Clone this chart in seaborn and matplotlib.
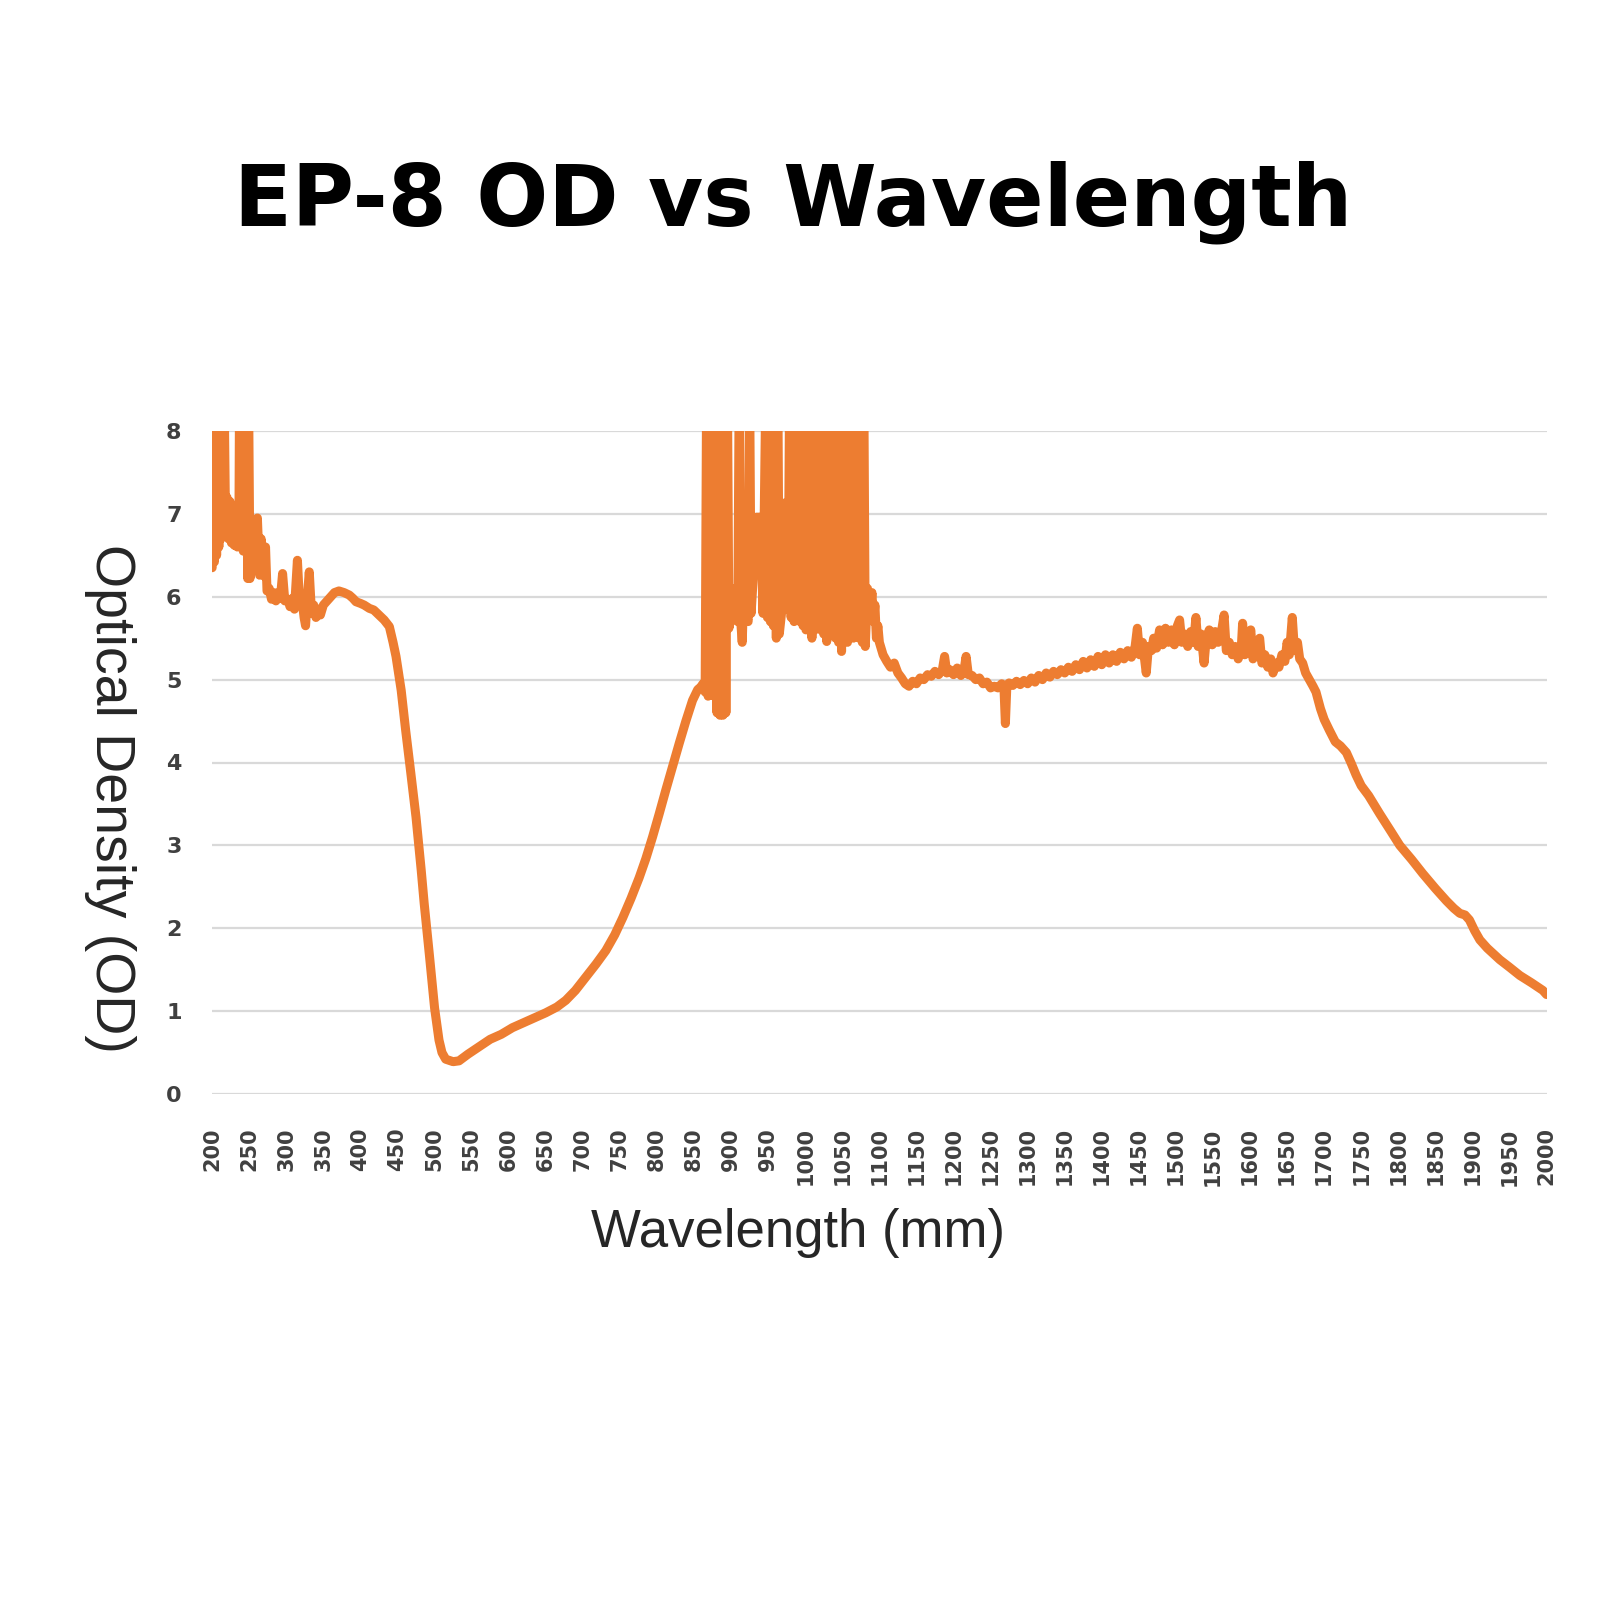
import seaborn as sns
import matplotlib.pyplot as plt
import pandas as pd

# UV part (200-440 nm), noisy with spikes off the top of the scale
uv_wl = [200, 201, 203, 204, 206, 207, 209, 210, 212, 213, 215, 216, 218, 220, 222, 224,
         226, 228, 230, 232, 234, 236, 237, 239, 240, 242, 243, 245, 246, 248, 249, 251,
         253, 256, 258, 261, 264, 266, 268, 270, 272, 274, 277, 280, 283, 286, 289, 292,
         295, 298, 302, 305, 308, 311, 315, 318, 321, 324, 326, 328, 331, 334, 337, 340,
         343, 346, 350, 355, 360, 365, 371, 378, 385, 390, 394, 400, 405, 412, 418, 425,
         432, 439]
uv_od = [6.35, 8.6, 6.42, 8.6, 6.5, 8.6, 6.6, 8.6, 6.7, 8.6, 6.75, 8.6, 6.95, 7.2, 6.7, 7.15,
         6.65, 7.1, 6.62, 6.9, 6.6, 6.65, 8.6, 6.6, 8.6, 6.55, 8.6, 6.6, 8.6, 6.22, 8.6, 6.22,
         6.65, 6.7, 6.6, 6.95, 6.26, 6.7, 6.55, 6.25, 6.6, 6.07, 6.1, 5.97, 6.05, 5.95, 6.05, 5.98,
         6.28, 5.95, 5.97, 5.88, 5.98, 5.85, 6.44, 5.9, 5.98, 5.75, 5.65, 5.95, 6.3, 5.8, 5.9, 5.75,
         5.85, 5.78, 5.9, 5.95, 6.0, 6.05, 6.07, 6.05, 6.02, 5.98, 5.94, 5.92, 5.9, 5.86, 5.84, 5.78,
         5.72, 5.64]

# visible part (440-860 nm), smooth dip
vis_wl = [444, 448, 455, 461, 468, 475, 482, 486, 493, 500, 506, 510, 515, 525, 533, 545,
          560, 575, 590, 605, 620, 635, 650, 665, 677, 690, 704, 718, 731, 743, 754, 765,
          776, 785, 794, 803, 812, 821, 830, 839, 848, 855, 859]
vis_od = [5.45, 5.28, 4.87, 4.39, 3.87, 3.34, 2.7, 2.3, 1.68, 1.04, 0.65, 0.5, 0.42, 0.39, 0.4, 0.48,
          0.57, 0.66, 0.72, 0.8, 0.86, 0.92, 0.98, 1.05, 1.13, 1.25, 1.41, 1.57, 1.73, 1.92, 2.13, 2.36,
          2.61, 2.84, 3.1, 3.38, 3.67, 3.95, 4.23, 4.5, 4.75, 4.88, 4.91]

# NIR part (860-1100 nm), saturated noisy block
nir_wl = [862, 865, 867, 869, 871, 873, 875, 877, 879, 881, 883, 885, 887, 889, 891, 893,
          895, 897, 900, 903, 906, 909, 911, 913, 915, 918, 921, 923, 925, 927, 930, 933,
          934, 940, 943, 947, 949, 951, 953, 955, 957, 959, 961, 963, 965, 968, 971, 974,
          977, 979, 981, 983, 985, 987, 989, 991, 993, 995, 997, 999, 1001, 1003, 1005, 1007,
          1009, 1011, 1013, 1015, 1017, 1019, 1021, 1023, 1025, 1027, 1029, 1031, 1033, 1035, 1037, 1039,
          1041, 1043, 1045, 1047, 1049, 1051, 1053, 1055, 1057, 1059, 1061, 1063, 1065, 1067, 1069, 1071,
          1073, 1075, 1077, 1079, 1081, 1084, 1087, 1090, 1092, 1094, 1096, 1098]
nir_od = [4.95, 4.85, 8.6, 4.8, 8.6, 4.82, 8.6, 4.8, 8.6, 4.6, 8.6, 4.57, 8.6, 4.57, 8.6, 4.6,
          8.6, 5.62, 5.75, 6.1, 5.8, 5.7, 8.6, 5.7, 5.45, 6.3, 5.75, 5.7, 8.6, 5.8, 6.25, 6.27,
          6.96, 6.96, 5.8, 8.6, 5.75, 8.6, 5.7, 8.6, 5.65, 8.6, 5.5, 8.6, 5.55, 5.8, 7.13, 5.85,
          5.9, 8.6, 5.75, 8.6, 5.7, 8.6, 5.75, 8.6, 5.7, 8.6, 5.65, 8.6, 5.6, 8.6, 5.65, 8.6,
          5.5, 8.6, 5.6, 8.6, 5.65, 8.6, 5.6, 8.6, 5.55, 8.6, 5.46, 8.6, 5.6, 8.6, 5.55, 8.6,
          5.5, 8.6, 5.45, 8.6, 5.34, 8.6, 5.5, 8.6, 5.45, 8.6, 5.55, 8.6, 5.5, 8.6, 5.6, 8.6,
          5.5, 8.6, 5.45, 8.6, 5.4, 6.1, 5.75, 6.05, 5.7, 5.9, 5.5, 5.65]

# SWIR part (1100-1700 nm), plateau with small noise
swir_wl = [1100, 1105, 1110, 1115, 1120, 1125, 1130, 1135, 1140, 1145, 1150, 1155, 1160, 1165, 1170, 1175,
           1180, 1185, 1188, 1191, 1195, 1200, 1205, 1210, 1214, 1217, 1220, 1225, 1230, 1235, 1240, 1245,
           1250, 1255, 1260, 1265, 1268, 1270, 1272, 1275, 1280, 1285, 1290, 1295, 1300, 1305, 1310, 1315,
           1320, 1325, 1330, 1335, 1340, 1345, 1350, 1355, 1360, 1365, 1370, 1375, 1380, 1385, 1390, 1395,
           1400, 1405, 1410, 1415, 1420, 1425, 1430, 1435, 1440, 1445, 1448, 1451, 1455, 1460, 1463, 1467,
           1470, 1474, 1478, 1482, 1486, 1490, 1494, 1498, 1502, 1505, 1508, 1512, 1516, 1520, 1524, 1527,
           1530, 1534, 1538, 1541, 1545, 1549, 1553, 1557, 1561, 1565, 1568, 1572, 1576, 1580, 1584, 1588,
           1590, 1593, 1597, 1601, 1604, 1608, 1613, 1616, 1620, 1624, 1628, 1631, 1635, 1639, 1643, 1647,
           1650, 1653, 1657, 1660, 1664, 1667, 1671, 1675, 1680, 1685, 1689, 1695, 1700]
swir_od = [5.45, 5.3, 5.22, 5.15, 5.2, 5.08, 5.02, 4.95, 4.92, 4.98, 4.95, 5.02, 5.0, 5.06, 5.04, 5.1,
           5.06, 5.12, 5.28, 5.08, 5.12, 5.06, 5.14, 5.05, 5.1, 5.28, 5.06, 5.05, 5.0, 5.02, 4.95, 4.97,
           4.9, 4.92, 4.9, 4.95, 4.92, 4.47, 4.93, 4.96, 4.93, 4.98, 4.94, 4.99, 4.95, 5.02, 4.97, 5.05,
           5.0, 5.08, 5.03, 5.1, 5.06, 5.12, 5.08, 5.15, 5.1, 5.18, 5.12, 5.22, 5.14, 5.24, 5.16, 5.28,
           5.18, 5.3, 5.2, 5.3, 5.22, 5.33, 5.25, 5.35, 5.27, 5.4, 5.62, 5.3, 5.45, 5.08, 5.4, 5.35,
           5.5, 5.38, 5.6, 5.42, 5.62, 5.45, 5.6, 5.42, 5.65, 5.72, 5.45, 5.55, 5.4, 5.58, 5.45, 5.75,
           5.4, 5.55, 5.2, 5.5, 5.6, 5.42, 5.58, 5.45, 5.55, 5.78, 5.35, 5.45, 5.3, 5.4, 5.25, 5.35,
           5.68, 5.3, 5.4, 5.6, 5.25, 5.35, 5.5, 5.2, 5.3, 5.15, 5.25, 5.08, 5.2, 5.15, 5.3, 5.22,
           5.45, 5.3, 5.75, 5.35, 5.45, 5.25, 5.2, 5.08, 5.0, 4.92, 4.85, 4.65, 4.52]

# tail (1700-2000 nm)
tail_wl = [1707, 1715, 1722, 1730, 1737, 1743, 1750, 1760, 1775, 1790, 1802, 1818, 1833, 1850, 1865, 1875,
           1883, 1890, 1896, 1903, 1910, 1920, 1937, 1950, 1964, 1980, 1995, 2000]
tail_od = [4.39, 4.25, 4.2, 4.12, 3.98, 3.85, 3.72, 3.6, 3.38, 3.17, 3.0, 2.83, 2.66, 2.48, 2.33, 2.24,
           2.18, 2.16, 2.1, 1.97, 1.86, 1.76, 1.62, 1.53, 1.43, 1.34, 1.25, 1.2]

x_ticks = list(range(200, 2001, 50))
y_ticks = [0, 1, 2, 3, 4, 5, 6, 7, 8]

df = pd.DataFrame({
    "wavelength": uv_wl + vis_wl + nir_wl + swir_wl + tail_wl,
    "od": uv_od + vis_od + nir_od + swir_od + tail_od,
})

sns.set_style("white")
plt.rcParams["font.family"] = ["DejaVu Sans"]
# keep every spike of the noisy spectrum
plt.rcParams["path.simplify"] = False

fig = plt.figure(figsize=(16, 16), dpi=100)
ax = fig.add_axes([0.1326, 0.31625, 0.834, 0.414375])

sns.lineplot(data=df, x="wavelength", y="od", color="#ED7D31", linewidth=6.5,
             estimator=None, sort=False, ax=ax)

ax.set_xlim(200, 2000)
ax.set_ylim(0, 8)
ax.set_xticks(x_ticks)
ax.set_yticks(y_ticks)
ax.set_xticklabels([str(t) for t in x_ticks], rotation=90, fontsize=15,
                   fontweight="bold", color="#404040")
ax.set_yticklabels([str(t) for t in y_ticks], fontsize=16,
                   fontweight="bold", color="#404040")
ax.tick_params(axis="x", length=0, pad=24)
ax.tick_params(axis="y", length=0, pad=22)

ax.grid(axis="y", color="#d9d9d9", linewidth=1.6)
ax.grid(axis="x", visible=False)
ax.set_axisbelow(True)
for s in ax.spines.values():
    s.set_visible(False)

ax.set_xlabel("Wavelength (mm)", fontsize=38, family="Liberation Sans",
              ha="center", va="baseline")
ax.xaxis.set_label_coords(0.439, -0.2308)
ax.set_ylabel("Optical Density (OD)", fontsize=40, family="Liberation Sans",
              rotation=270, ha="center", va="center")
ax.yaxis.set_label_coords(-0.0765, 0.446)

fig.text(0.496, 1 - 226 / 1600, "EP-8 OD vs Wavelength", fontsize=61,
         fontweight="bold", ha="center", va="baseline", color="black")

plt.savefig("out.png", dpi=100)
